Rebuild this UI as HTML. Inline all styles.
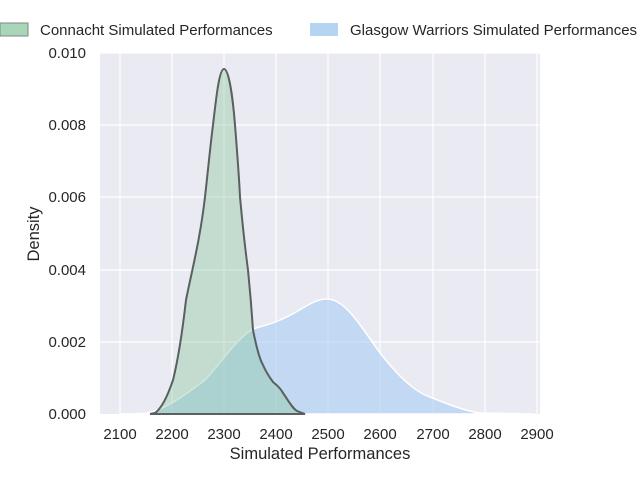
<!DOCTYPE html>
<html><head><style>
body{margin:0;background:#fff;width:640px;height:480px;overflow:hidden;font-family:"Liberation Sans",sans-serif;}
svg text{font-family:"Liberation Sans",sans-serif;fill:#262626}
</style></head><body>
<svg width="640" height="480" viewBox="0 0 640 480">
<rect x="100" y="53" width="440" height="361" fill="#eaeaf2"/>
<g stroke="#fff" stroke-width="1.2">
<line x1="120" y1="53" x2="120" y2="414"/><line x1="172" y1="53" x2="172" y2="414"/><line x1="224" y1="53" x2="224" y2="414"/><line x1="276" y1="53" x2="276" y2="414"/><line x1="328" y1="53" x2="328" y2="414"/><line x1="380" y1="53" x2="380" y2="414"/><line x1="433" y1="53" x2="433" y2="414"/><line x1="485" y1="53" x2="485" y2="414"/><line x1="537" y1="53" x2="537" y2="414"/>
<line x1="100" y1="53" x2="540" y2="53"/><line x1="100" y1="125" x2="540" y2="125"/><line x1="100" y1="197" x2="540" y2="197"/><line x1="100" y1="270" x2="540" y2="270"/><line x1="100" y1="342" x2="540" y2="342"/>
</g>
<path d="M120,414 L145,413.5 C165,410 185,395 205,380 C222,362 235,340 253,329 C265,325 272,324 280,320 C300,312 312,299 327,299 C345,299 360,325 380,353 C400,378 415,392 430,397 C450,405 465,411 480,413 L535,414 Z" fill="#a1c9f4" fill-opacity="0.55" stroke="#fff" stroke-width="1.5"/>
<path d="M150,414 L155,413 C162,408 168,395 173,380 C178,360 182,335 186,300 C192,270 200,240 205,197 C208,170 211,140 213,125 C216,100 219,69 224,69 C229,69 233,100 235,125 C237,150 239,175 240,197 C243,230 246,255 248,270 C250,290 252,315 253,330 C256,345 260,360 263,365 C266,372 270,378 273,382 C278,386 281,389 283,393 C288,400 292,408 297,411 L305,414 Z" fill="#8fc9a3" fill-opacity="0.42" stroke="#5a5f5f" stroke-width="2"/>
<g text-anchor="end" style="font-size:15px"><text x="86" y="419">0.000</text><text x="86" y="347">0.002</text><text x="86" y="275">0.004</text><text x="86" y="202">0.006</text><text x="86" y="130">0.008</text><text x="86" y="58">0.010</text></g>
<g text-anchor="middle" style="font-size:15px"><text x="120" y="439">2100</text><text x="172" y="439">2200</text><text x="224" y="439">2300</text><text x="276" y="439">2400</text><text x="328" y="439">2500</text><text x="380" y="439">2600</text><text x="433" y="439">2700</text><text x="485" y="439">2800</text><text x="537" y="439">2900</text></g>
<text x="320" y="459" text-anchor="middle" style="font-size:16.5px">Simulated Performances</text>
<text transform="translate(39,234) rotate(-90)" text-anchor="middle" style="font-size:16.5px">Density</text>
<rect x="0" y="23" width="28" height="13" fill="#a9d6b8" stroke="#7a8a80"/>
<text x="40" y="35" style="font-size:15px">Connacht Simulated Performances</text>
<rect x="310" y="23" width="28" height="13" fill="#b4d4f2"/>
<text x="350" y="35" style="font-size:15px">Glasgow Warriors Simulated Performances</text>
</svg>
</body></html>
